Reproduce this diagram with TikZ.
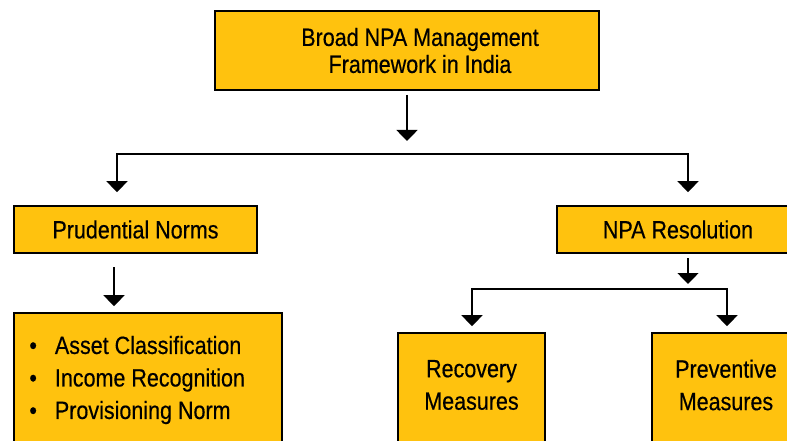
\documentclass[tikz,border=0pt]{standalone}
\usepackage{fontspec}
\setmainfont{Liberation Sans}[FakeStretch=0.86,FakeBold=0.4]
\usetikzlibrary{arrows.meta}
\definecolor{npayellow}{RGB}{255,194,14}
\newcommand{\npabullet}{\textbullet\hspace{18pt}}

\begin{document}
\begin{tikzpicture}[x=1pt,y=-1pt,
  box/.style={draw=black,line width=1.6pt,fill=npayellow,inner sep=0pt,align=center,font=\fontsize{25}{32.5}\selectfont},
  boxtext/.style={inner sep=0pt,font=\fontsize{25}{32.5}\selectfont},
  arr/.style={line width=1.6pt,-{Triangle[width=21pt,length=11pt]}}]
\useasboundingbox (0,0) rectangle (787,441);
\clip (0,0) rectangle (787,441);
% boxes
\node[box,minimum width=384pt,minimum height=79pt,
  label={[boxtext,xshift=13pt,align=center,font=\fontsize{25}{27}\selectfont]center:Broad NPA Management\\Framework in India}] (frame) at (407,50.5) {};
\node[box,minimum width=243pt,minimum height=47pt] (prud) at (135.5,229.5) {Prudential Norms};
\node[box,minimum width=242pt,minimum height=47pt] (res) at (678,229.5) {NPA Resolution};
\node[box,minimum width=268pt,minimum height=160pt,
  label={[boxtext,anchor=west,align=left,xshift=16pt,yshift=13pt]west:\npabullet Asset Classification\\\npabullet Income Recognition\\\npabullet Provisioning Norm}] (norms) at (148,393) {};
\node[box,minimum width=147pt,minimum height=140pt,
  label={[boxtext,align=center,yshift=18pt]center:Recovery\\Measures}] (rec) at (471.5,403) {};
\node[box,minimum width=148pt,minimum height=140pt,
  label={[boxtext,align=center,yshift=18pt]center:Preventive\\Measures}] (prev) at (726,403) {};
% connectors
\coordinate (a0) at (407,95);
\coordinate (a1) at (407,141);
\coordinate (fl) at (117,154);
\coordinate (fr) at (688,154);
\coordinate (p0) at (114,267);
\coordinate (r0) at (688,258);
\coordinate (r1) at (688,284);
\coordinate (rl) at (472,289);
\coordinate (rr) at (727,289);
\draw[arr] (a0) -- (a1);
\draw[arr,shorten >=13pt] (fr) -- (fl) -- (fl |- prud.north);
\draw[arr,shorten >=13pt] (fl) -- (fr) -- (fr |- res.north);
\draw[arr,shorten >=6pt] (p0) -- (p0 |- norms.north);
\draw[arr] (r0) -- (r1);
\draw[arr,shorten >=6pt] (rr) -- (rl) -- (rl |- rec.north);
\draw[arr,shorten >=6pt] (rl) -- (rr) -- (rr |- prev.north);
\end{tikzpicture}
\end{document}
